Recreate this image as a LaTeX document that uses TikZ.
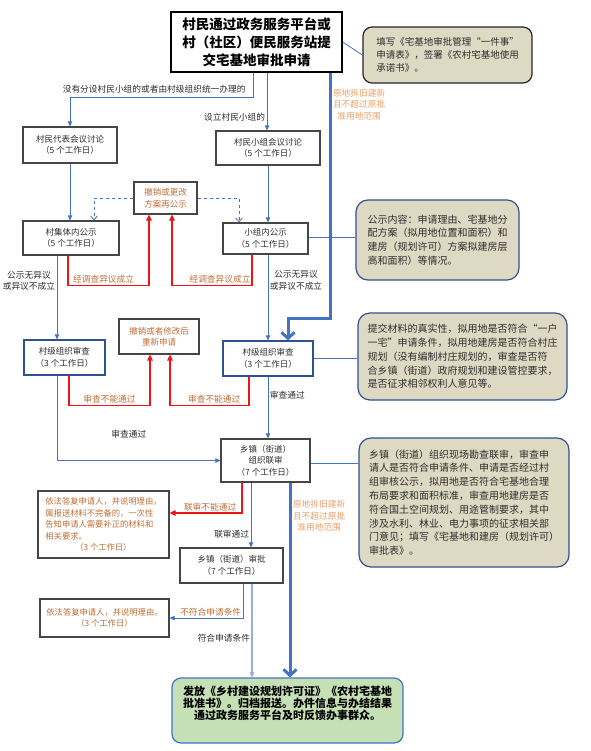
\documentclass[tikz,border=0pt]{standalone}
\usepackage{fontspec}
\setmainfont{Noto Sans CJK SC}
\usetikzlibrary{positioning,arrows.meta}

\definecolor{flowblue}{RGB}{68,114,196}
\definecolor{paleblue}{RGB}{150,175,220}
\definecolor{navy}{RGB}{47,82,143}
\definecolor{boxgray}{RGB}{70,70,70}
\definecolor{textgray}{RGB}{45,45,45}
\definecolor{rust}{RGB}{192,110,55}
\definecolor{peach}{RGB}{235,160,105}
\definecolor{khaki}{RGB}{221,217,195}
\definecolor{leaf}{RGB}{197,224,180}
\definecolor{alarm}{RGB}{240,20,20}

\tikzset{
  stepbox/.style={draw=boxgray,line width=1.2pt,fill=white,align=center,
    inner sep=1pt,text=textgray,font=\fontsize{8.5}{11.5}\selectfont},
  checkbox/.style={stepbox,draw=navy},
  redobox/.style={stepbox,text=rust},
  notebox/.style={draw=navy,line width=1.2pt,fill=khaki,rounded corners=12pt,
    align=left,inner sep=2pt,text=textgray,font=\fontsize{10}{13.8}\selectfont},
  flow/.style={flowblue,line width=0.9pt,-{Triangle[length=5pt,width=4.5pt]}},
  reject/.style={alarm,line width=1.2pt,-{Triangle[length=6pt,width=5.5pt]}},
  redo/.style={flowblue,dashed,line width=0.8pt,-{Straight Barb[length=4pt,width=7pt]}},
  mainline/.style={flowblue,line width=3pt,-{Straight Barb[length=6pt,width=13pt]}},
  tie/.style={flowblue,line width=0.8pt},
  lbl/.style={font=\fontsize{8.7}{11.5}\selectfont,text=textgray,inner sep=1.5pt,align=center},
  redlbl/.style={lbl,text=rust},
  sidelbl/.style={lbl,text=peach},
}

\begin{document}
\begin{tikzpicture}[x=1pt,y=-1pt]
  \useasboundingbox[fill=white] (0,0) rectangle (590,751);

  % boxes
  \node[draw=black,line width=1.2pt,align=center,minimum width=171pt,minimum height=60pt,
    inner sep=0pt,font=\bfseries\fontsize{13.5}{18}\selectfont] (apply) at (256.5,42)
    {村民通过政务服务平台或\\村（社区）便民服务站提\\交宅基地审批申请};
  \node[notebox,draw=black!85,rounded corners=9pt,minimum width=169pt,minimum height=56pt,
    font=\fontsize{9.5}{12.8}\selectfont] (form) at (447.5,55)
    {填写《宅基地审批管理“一件事”\\申请表》，签署《农村宅基地使用\\承诺书》。};

  \node[stepbox,minimum width=94pt,minimum height=36pt] (rep) at (70,145)
    {村民代表会议讨论\\（5 个工作日）};
  \node[stepbox,minimum width=104pt,minimum height=34pt] (grp) at (268,148)
    {村民小组会议讨论\\（5 个工作日）};
  \node[stepbox,minimum width=96pt,minimum height=34pt] (pubV) at (71,238)
    {村集体内公示\\（5 个工作日）};
  \node[stepbox,minimum width=85pt,minimum height=31pt] (pubG) at (265.5,238.5)
    {小组内公示\\（5 个工作日）};
  \node[redobox,minimum width=63pt,minimum height=32pt] (revise) at (165.5,198)
    {撤销或更改\\方案再公示};
  \node[notebox,minimum width=163pt,minimum height=80pt] (pubnote) at (437.5,240)
    {公示内容：申请理由、宅基地分\\配方案（拟用地位置和面积）和\\建房（规划许可）方案拟建房层\\高和面积）等情况。};

  \node[checkbox,minimum width=81pt,minimum height=35pt] (checkL) at (64.5,357.5)
    {村级组织审查\\（3 个工作日）};
  \node[checkbox,minimum width=90pt,minimum height=35pt] (checkR) at (268,358.5)
    {村级组织审查\\（3 个工作日）};
  \node[redobox,minimum width=80pt,minimum height=35pt] (reapply) at (159,336.5)
    {撤销或者修改后\\重新申请};
  \node[notebox,minimum width=209pt,minimum height=87pt] (checknote) at (462.5,356.5)
    {提交材料的真实性，拟用地是否符合“一户\\一宅”申请条件，拟用地建房是否符合村庄\\规划（没有编制村庄规划的，审查是否符\\合乡镇（街道）政府规划和建设管控要求，\\是否征求相邻权利人意见等。};

  \node[stepbox,minimum width=89pt,minimum height=43pt] (joint) at (265.5,460.5)
    {乡镇（街道）\\组织联审\\（7 个工作日）};
  \node[notebox,minimum width=210pt,minimum height=129pt] (jointnote) at (464,502.5)
    {乡镇（街道）组织现场勘查联审，审查申\\请人是否符合申请条件、申请是否经过村\\组审核公示，拟用地是否符合宅基地合理\\布局要求和面积标准，审查用地建房是否\\符合国土空间规划、用途管制要求，其中\\涉及水利、林业、电力事项的征求相关部\\门意见；填写《宅基地和建房（规划许可）\\审批表》。};
  \node[redobox,align=left,minimum width=131pt,minimum height=67pt,
    font=\fontsize{8.3}{11.6}\selectfont] (replyA) at (103.5,524.5)
    {依法答复申请人，并说明理由，\\属报送材料不完备的，一次性\\告知申请人需要补正的材料和\\相关要求。\\\makebox[116pt]{（3 个工作日）}};
  \node[stepbox,minimum width=103pt,minimum height=35pt] (approve) at (231.5,565.5)
    {乡镇（街道）审批\\（7 个工作日）};
  \node[redobox,minimum width=129pt,minimum height=38pt,
    font=\fontsize{8.3}{11.6}\selectfont] (replyB) at (104.5,618)
    {依法答复申请人，并说明理由。\\（3 个工作日）};
  \node[draw=flowblue,line width=1.2pt,fill=leaf,rounded corners=9pt,align=center,
    minimum width=231pt,minimum height=65pt,inner sep=0pt,text depth=16pt,
    font=\bfseries\fontsize{11}{11.8}\selectfont] (issue) at (287.5,710.5)
    {发放《乡村建设规划许可证》《农村宅基地\\批准书》。归档报送。办件信息与办结结果\\通过政务服务平台及时反馈办事群众。};

  % main route
  \draw[mainline] ([xshift=73.5pt]apply.south) --
    node[sidelbl,right,pos=0.13] {原地拆旧建新\\且不超过原批\\准用地范围} ++(0,246)
    -| ([xshift=20pt]checkR.north);
  \draw[mainline] ([xshift=24.5pt]joint.south) --
    node[sidelbl,right,pos=0.17] {原地拆旧建新\\且不超过原批\\准用地范围}
    ([xshift=24.5pt]joint.south |- issue.north);

  % notes
  \draw[tie] (apply.east) -- (form.west);
  \draw[tie] ([yshift=1.5pt]pubG.east) -- ([yshift=1.5pt]pubG.east -| pubnote.west);
  \draw[tie] (checkR.east) -- (checkR.east -| checknote.west);
  \draw[tie] ([yshift=-2.5pt]joint.east) -- ([yshift=-2.5pt]joint.east -| jointnote.west);

  % village route
  \draw[flow] ([xshift=-3.5pt]apply.south) -- ++(0,25)
    -| node[lbl,above,pos=0.27,yshift=2pt] {没有分设村民小组的或者由村级组织统一办理的} (rep.north);
  \draw[flow] ([xshift=10.5pt]apply.south) --
    node[lbl,left,pos=0.77] {设立村民小组的} ([xshift=10.5pt]apply.south |- grp.north);
  \draw[flow] (rep.south) -- (rep.south |- pubV.north);
  \draw[flow] (grp.south) -- (grp.south |- pubG.north);
  \draw[redo] (revise.west) -| ([xshift=23pt]pubV.north);
  \draw[redo] (revise.east) -| ([xshift=-26.5pt]pubG.north);
  \draw[reject] ([xshift=-3pt]pubV.south) -- ++(0,30)
    -| node[redlbl,above,pos=0.22] {经调查异议成立} ([xshift=-16.5pt]revise.south);
  \draw[reject] ([xshift=-13.5pt]pubG.south) -- ++(0,31)
    -| node[redlbl,above,pos=0.2] {经调查异议成立} ([xshift=6.5pt]revise.south);
  \draw[flow] ([xshift=-14pt]pubV.south) --
    node[lbl,left,pos=0.3] {公示无异议\\或异议不成立} ([xshift=-14pt]pubV.south |- checkL.north);
  \draw[flow] ([xshift=2.5pt]pubG.south) --
    node[lbl,right,pos=0.3] {公示无异议\\或异议不成立} ([xshift=2.5pt]pubG.south |- checkR.north);

  % review
  \draw[reject] ([xshift=4.5pt]checkL.south) -- ++(0,30)
    -| node[redlbl,above,pos=0.25] {审查不能通过} ([xshift=-9pt]reapply.south);
  \draw[reject] ([xshift=-19pt]checkR.south) -- ++(0,29)
    -| node[redlbl,above,pos=0.22] {审查不能通过} ([xshift=11pt]reapply.south);
  \draw[flow] ([xshift=-7.5pt]checkL.south)
    |- node[lbl,above,pos=0.72,yshift=20pt] {审查通过} (joint.west);
  \draw[flow] (checkR.south) --
    node[lbl,right,pos=0.3] {审查通过} (checkR.south |- joint.north);

  % town
  \draw[flow] ([xshift=-14.5pt]joint.south) --
    node[lbl,left,pos=0.8] {联审通过} ([xshift=-14.5pt]joint.south |- approve.north);
  \draw[reject] ([xshift=-23.5pt]joint.south)
    |- node[redlbl,above,pos=0.72] {联审不能通过} ([yshift=11.5pt]replyA.east);
  \draw[flow] ([xshift=11.5pt]approve.south)
    |- node[redlbl,above,pos=0.72] {不符合申请条件} (replyB.east);
  \draw[flow,paleblue,line width=1.1pt] ([xshift=20.5pt]approve.south) --
    node[lbl,left,pos=0.58] {符合申请条件} ([xshift=20.5pt]approve.south |- issue.north);
\end{tikzpicture}
\end{document}
